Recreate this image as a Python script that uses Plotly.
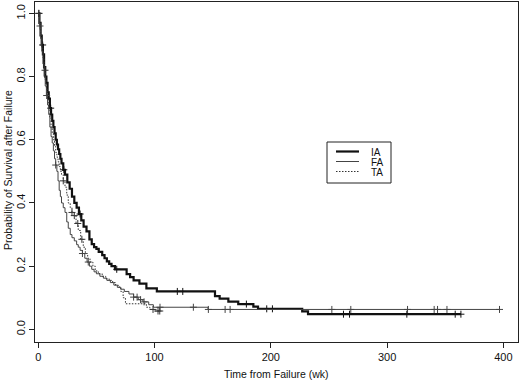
import numpy as np
import plotly.graph_objects as go

# ---- data ----
ia_t = [0, 1, 2, 3, 4, 5, 6, 7, 8, 9, 10, 11, 12, 13, 14, 15, 16, 17, 18, 19, 20, 21.5, 23, 25, 27, 29, 31,
        33, 35, 37, 39, 41.5, 44, 46, 48, 50, 52, 55, 57, 59, 61, 63, 66, 76, 79, 82, 87, 93, 102,
        152, 156, 163.5, 172, 185, 189, 227, 232]
ia_s = [1.0, 0.97, 0.93, 0.90, 0.87, 0.83, 0.80, 0.78, 0.75, 0.73, 0.70, 0.68, 0.66, 0.64, 0.62, 0.60, 0.585,
        0.57, 0.555, 0.54, 0.525, 0.505, 0.49, 0.465, 0.445, 0.42, 0.40, 0.385, 0.365, 0.345, 0.325, 0.31,
        0.285, 0.27, 0.26, 0.255, 0.245, 0.235, 0.225, 0.215, 0.207, 0.20, 0.19, 0.175, 0.165, 0.155,
        0.145, 0.13, 0.12, 0.105, 0.097, 0.088, 0.08, 0.072, 0.065, 0.057, 0.048]
ia_cens = [0.5, 3.8, 10.7, 22, 36, 67.5, 119.6, 124.3, 179, 196.5, 201.4, 262.5, 267.7, 317, 358.6, 363.5]

fa_t = [0, 1, 2, 3, 4, 5, 6, 7, 8, 9, 10, 11, 12, 13, 14, 15, 16, 17, 18, 19, 20, 21.5, 23, 24.5, 25.8,
        27.5, 29, 31, 33, 34.4, 36, 38, 40, 42, 44, 46, 48, 50, 53, 56, 59, 62, 65, 68, 71, 74, 78, 82,
        86, 90, 95, 99, 146]
fa_s = [1.0, 0.96, 0.92, 0.88, 0.84, 0.80, 0.77, 0.74, 0.71, 0.68, 0.64, 0.61, 0.59, 0.565, 0.54, 0.52,
        0.50, 0.47, 0.44, 0.42, 0.40, 0.385, 0.37, 0.34, 0.32, 0.30, 0.29, 0.28, 0.268, 0.26, 0.25, 0.24,
        0.225, 0.213, 0.20, 0.19, 0.182, 0.176, 0.168, 0.162, 0.155, 0.148, 0.14, 0.133, 0.127, 0.12,
        0.112, 0.102, 0.094, 0.087, 0.078, 0.07, 0.063]
fa_cens = [1.5, 7.2, 15, 38, 43, 82, 85, 88, 91, 104.7, 133.4, 146.3, 160.7, 165, 252.5,
           268.8, 317.6, 340.5, 343.4, 351.5, 396.7]

ta_t = [0, 1, 2, 3, 4, 5, 6, 7, 8, 9, 10, 11, 12, 13, 14, 15, 16, 17, 18, 19, 20, 21.5, 23, 24.5, 25.8,
        27.5, 29, 30.7, 32.5, 34.4, 36.5, 38.7, 40.5, 42.5, 44.5, 47, 49, 51.6, 55, 58, 61, 64, 66.5,
        68.8, 71, 73, 75, 93, 96, 100]
ta_s = [1.0, 0.97, 0.93, 0.89, 0.86, 0.82, 0.79, 0.76, 0.73, 0.70, 0.67, 0.64, 0.62, 0.60, 0.58, 0.56,
        0.545, 0.53, 0.515, 0.50, 0.49, 0.47, 0.45, 0.425, 0.40, 0.385, 0.37, 0.36, 0.335, 0.313, 0.285,
        0.26, 0.24, 0.225, 0.213, 0.20, 0.185, 0.176, 0.168, 0.16, 0.155, 0.148, 0.14, 0.134, 0.12,
        0.10, 0.081, 0.07, 0.063, 0.058]
ta_cens = [0.5, 5.8, 21.5, 29, 31, 34, 37.5, 98.7, 103, 104.5]

groups = ["IA", "FA", "TA"]
x_ticks = [0, 100, 200, 300, 400]
y_ticks = [0.0, 0.2, 0.4, 0.6, 0.8, 1.0]

series = [
    ("IA", ia_t, ia_s, ia_cens, dict(color="#111", width=2.2, dash="solid")),
    ("FA", fa_t, fa_s, fa_cens, dict(color="#444", width=1, dash="solid")),
    ("TA", ta_t, ta_s, ta_cens, dict(color="#333", width=1, dash="1.5px,1.5px")),
]

fig = go.Figure()
for name, t, s, c, ln in series:
    t_arr = np.array(t, dtype=float)
    s_arr = np.array(s, dtype=float)
    end = max(max(c), t_arr[-1])
    xs = list(t_arr) + [end]
    ys = list(s_arr) + [s_arr[-1]]
    fig.add_trace(go.Scatter(x=xs, y=ys, mode="lines", line=dict(shape="hv", **ln),
                             name=name, showlegend=False))
    c_arr = np.array(c, dtype=float)
    idx = np.searchsorted(t_arr, c_arr, side="right") - 1
    fig.add_trace(go.Scatter(x=c_arr, y=s_arr[idx], mode="markers", showlegend=False,
                             marker=dict(symbol="cross-thin", size=5,
                                         line=dict(color=ln["color"], width=1))))

# ---- layout geometry in pixels ----
L, R, T, B = 35, 518, 2, 342
W, H = 520, 382
def px(x):
    return (x - L) / (R - L)
def py(y):
    return (B - y) / (B - T)

# ---- manual legend (paper coordinates) ----
fig.add_shape(type="rect", xref="paper", yref="paper", x0=px(327), x1=px(391), y0=py(183), y1=py(142),
              line=dict(color="#222", width=1), fillcolor="white")
rows = [151.5, 161.5, 171.5]
for (name, _, _, _, ln), ry in zip(series, rows):
    fig.add_shape(type="line", xref="paper", yref="paper", x0=px(336), x1=px(359), y0=py(ry), y1=py(ry),
                  line=dict(color=ln["color"], width=ln["width"], dash=ln["dash"]))
    fig.add_annotation(xref="paper", yref="paper", x=px(369), y=py(ry + 0.5), text=name, showarrow=False,
                       xanchor="left", yanchor="middle", font=dict(size=10, color="#111"))

# ---- axis titles ----
fig.add_annotation(xref="paper", yref="paper", x=px(276.5), y=py(374), text="Time from Failure (wk)",
                   showarrow=False, xanchor="center", yanchor="middle", font=dict(size=10.5, color="#111"))
fig.add_annotation(xref="paper", yref="paper", x=px(8), y=py(170), text="Probability of Survival after Failure",
                   showarrow=False, xanchor="center", yanchor="middle", textangle=-90,
                   font=dict(size=10.5, color="#111"))

axis_common = dict(showline=True, linecolor="#222", linewidth=1, mirror=True, ticks="outside",
                   ticklen=5, tickcolor="#222", showgrid=False, zeroline=False, automargin=False,
                   tickfont=dict(size=11, color="#111"))
fig.update_layout(
    width=W, height=H,
    margin=dict(l=L, r=W - R, t=T, b=H - B),
    paper_bgcolor="white", plot_bgcolor="white",
    font=dict(family="Liberation Sans, Arial, sans-serif", color="#111"),
    xaxis=dict(range=[-2.8, 412.6], tickvals=x_ticks, ticktext=[str(v) for v in x_ticks],
               **axis_common),
    yaxis=dict(range=[-0.04, 1.036], tickvals=y_ticks, ticktext=[f"{v:.1f}" for v in y_ticks],
               tickangle=-90, **axis_common),
)

fig.write_html("out.html", config={"displayModeBar": False},
               post_script="document.body.style.margin='0';document.body.style.overflow='hidden';")
